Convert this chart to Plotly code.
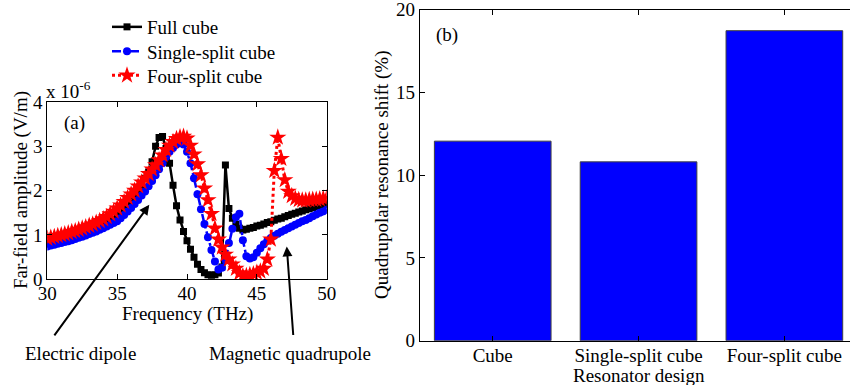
import numpy as np
import plotly.graph_objects as go

# ---------------- data ----------------
freq = np.arange(30.0, 50.001, 0.25)  # THz sampling grid

full_cube = [
    0.80, 0.82, 0.84, 0.86, 0.88, 0.90, 0.92, 0.94,
    0.97, 0.99, 1.02, 1.05, 1.08, 1.11, 1.14, 1.18,
    1.22, 1.26, 1.31, 1.35, 1.40, 1.46, 1.53, 1.61,
    1.70, 1.82, 1.95, 2.10, 2.28, 2.42, 2.65, 3.00,
    3.20, 3.22, 2.95, 2.62, 2.12, 1.66, 1.34, 1.08,
    0.87, 0.68, 0.50, 0.34, 0.22, 0.15, 0.10, 0.09,
    0.10, 0.14, 0.28, 2.58, 1.60, 1.38, 1.24, 1.15,
    1.11, 1.13, 1.15, 1.17, 1.20, 1.22, 1.25, 1.28,
    1.30, 1.33, 1.36, 1.38, 1.41, 1.44, 1.47, 1.49,
    1.52, 1.54, 1.57, 1.59, 1.62, 1.64, 1.66, 1.68,
    1.70,
]
single_split = [
    0.74, 0.76, 0.78, 0.80, 0.82, 0.84, 0.86, 0.88,
    0.91, 0.94, 0.96, 0.99, 1.02, 1.05, 1.08, 1.12,
    1.15, 1.19, 1.23, 1.27, 1.31, 1.38, 1.45, 1.53,
    1.61, 1.70, 1.79, 1.89, 1.98, 2.10, 2.22, 2.35,
    2.48, 2.62, 2.76, 2.88, 2.96, 3.04, 3.08, 3.04,
    2.88, 2.62, 2.28, 1.92, 1.58, 1.25, 0.95, 0.66,
    0.40, 0.22, 0.26, 0.44, 0.82, 1.14, 1.40, 1.48,
    0.88, 0.52, 0.47, 0.50, 0.60, 0.70, 0.79, 0.87,
    0.93, 0.98, 1.03, 1.07, 1.11, 1.15, 1.19, 1.23,
    1.27, 1.31, 1.34, 1.38, 1.42, 1.46, 1.50, 1.53,
    1.57,
]
four_split = [
    0.92, 0.94, 0.96, 0.98, 1.00, 1.02, 1.04, 1.07,
    1.09, 1.12, 1.15, 1.18, 1.21, 1.24, 1.28, 1.32,
    1.36, 1.41, 1.47, 1.53, 1.60, 1.67, 1.75, 1.84,
    1.92, 2.00, 2.10, 2.19, 2.28, 2.38, 2.48, 2.58,
    2.69, 2.80, 2.92, 3.02, 3.10, 3.17, 3.21, 3.22,
    3.18, 3.02, 2.82, 2.60, 2.35, 2.05, 1.79, 1.48,
    1.15, 0.90, 0.72, 0.56, 0.45, 0.34, 0.24, 0.14,
    0.07, 0.08, 0.10, 0.12, 0.15, 0.18, 0.24, 0.45,
    0.90, 2.45, 3.20, 2.72, 2.24, 1.98, 1.88, 1.82,
    1.79, 1.78, 1.78, 1.79, 1.80, 1.80, 1.81, 1.82,
    1.83,
]
series_names = ["Full cube", "Single-split cube", "Four-split cube"]

designs = ["Cube", "Single-split cube", "Four-split cube"]
shift_pct = [12.05, 10.8, 18.72]

freq_ticks = [30, 35, 40, 45, 50]
amp_ticks = [0, 1, 2, 3, 4]
shift_ticks = [0, 5, 10, 15, 20]

# ---------------- figure ----------------
W, H = 850, 385
FONT = "Liberation Serif"
FS = 19

def px(x):
    return x / W

def py(y):
    return 1 - y / H

fig = go.Figure()

fig.add_trace(go.Scatter(
    x=freq, y=full_cube, name=series_names[0], mode="lines+markers",
    line=dict(color="black", width=2.5),
    marker=dict(symbol="square", size=7, color="black"),
    xaxis="x", yaxis="y", legend="legend"))
fig.add_trace(go.Scatter(
    x=freq, y=single_split, name=series_names[1], mode="lines+markers",
    line=dict(color="blue", width=2.5, dash="dashdot"),
    marker=dict(symbol="circle", size=8, color="blue"),
    xaxis="x", yaxis="y", legend="legend2"))
fig.add_trace(go.Scatter(
    x=freq, y=four_split, name=series_names[2], mode="lines+markers",
    line=dict(color="red", width=3, dash="dot"),
    marker=dict(symbol="star", size=13, color="red"),
    xaxis="x", yaxis="y", legend="legend3"))

fig.add_trace(go.Bar(
    x=[1, 2, 3], y=shift_pct, width=0.8, showlegend=False,
    marker=dict(color="#0000ff", line=dict(color="#404040", width=1)),
    xaxis="x2", yaxis="y2"))

axis_common = dict(
    showgrid=False, zeroline=False, showline=True, linecolor="black",
    linewidth=1, ticks="inside", ticklen=5, tickcolor="black",
    automargin=False, ticklabeloverflow="allow",
    tickfont=dict(family=FONT, size=FS, color="black"),
)

def leg(yc):
    return dict(x=px(107), y=py(yc), xanchor="left", yanchor="middle",
                bgcolor="rgba(0,0,0,0)", font=dict(family=FONT, size=FS, color="black"))

fig.update_layout(
    width=W, height=H,
    margin=dict(l=0, r=0, t=0, b=0, autoexpand=False),
    paper_bgcolor="white", plot_bgcolor="white",
    font=dict(family=FONT, size=FS, color="black"),
    xaxis=dict(domain=[px(47.3), px(326.7)], range=[30, 50],
               tickvals=freq_ticks, mirror="ticks", anchor="y",
               ticklabelstandoff=-3, **axis_common),
    yaxis=dict(domain=[py(279.3), py(102)], range=[0, 4],
               tickvals=amp_ticks, mirror="ticks", anchor="x", **axis_common),
    xaxis2=dict(domain=[px(419.8), 1.0], range=[0.5, 3.45],
                tickvals=[1, 2, 3], ticktext=designs, mirror="ticks",
                anchor="y2", ticklabelstandoff=-3, **axis_common),
    yaxis2=dict(domain=[py(340.7), py(9.5)], range=[0, 20],
                tickvals=shift_ticks, mirror=False, anchor="x2", **axis_common),
    legend=leg(27),
    legend2=leg(51.5),
    legend3=leg(75.5),
    showlegend=True,
)

ann = []
def text(x, y, t, xanchor="center", yanchor="middle", angle=0):
    ann.append(dict(x=px(x), y=py(y), xref="paper", yref="paper", text=t,
                    showarrow=False, xanchor=xanchor, yanchor=yanchor,
                    textangle=angle, font=dict(family=FONT, size=FS, color="black")))

text(44, 104, "x 10<sup>-6</sup>", xanchor="left", yanchor="bottom")
text(62, 123, "(a)", xanchor="left")
text(434, 35, "(b)", xanchor="left")
text(187, 314, "Frequency (THz)")
text(21, 190, "Far-field amplitude (V/m)", angle=-90)
text(382, 175, "Quadrupolar resonance shift (%)", angle=-90)
text(638.5, 375, "Resonator design")
text(80, 353, "Electric dipole")
text(290, 353, "Magnetic quadrupole")

# arrows (head in data coords, tail offset in pixels)
ann.append(dict(x=37.3, y=1.68, xref="x", yref="y", ax=-96, ay=132,
                axref="pixel", ayref="pixel", text="", showarrow=True,
                arrowhead=2, arrowsize=1, arrowwidth=2, arrowcolor="black"))
ann.append(dict(x=47.14, y=0.74, xref="x", yref="y", ax=6.6, ay=90,
                axref="pixel", ayref="pixel", text="", showarrow=True,
                arrowhead=2, arrowsize=1, arrowwidth=2, arrowcolor="black"))

fig.update_layout(annotations=ann)

fig.write_html("out.html")
